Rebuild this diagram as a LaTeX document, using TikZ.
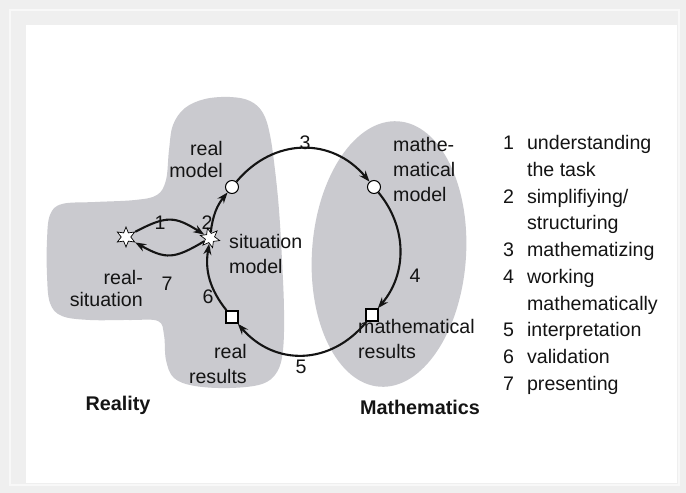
\documentclass[tikz,border=0pt]{standalone}
\usepackage{fontspec}
\setmainfont{Liberation Sans}
\usetikzlibrary{shapes.geometric,arrows.meta}
\definecolor{bggray}{RGB}{239,239,239}
\definecolor{frameline}{RGB}{248,248,248}
\definecolor{blob}{RGB}{202,202,207}
\definecolor{ink}{RGB}{20,20,20}
\begin{document}
\begin{tikzpicture}[x=1pt,y=1pt,
  lbl/.style={inner sep=0pt, text=ink, font=\fontsize{19.6}{25}\selectfont},
  lbltight/.style={inner sep=0pt, text=ink, font=\fontsize{19.6}{22}\selectfont},
  title/.style={inner sep=0pt, text=ink, font=\fontsize{19.8}{24}\selectfont\bfseries},
  starnode/.style={star, star points=6, star point ratio=2.1, minimum size=20pt, inner sep=0pt, draw, fill=white, line width=0.7pt},
  circnode/.style={circle, draw, fill=white, minimum size=13pt, inner sep=0pt, line width=1pt},
  sqnode/.style={rectangle, draw, fill=white, minimum size=12pt, inner sep=0pt, line width=1.5pt},
  arr/.style={line width=2.1pt, draw=ink, -{Stealth[length=11pt,width=8pt]}},
]
\useasboundingbox (0,0) rectangle (686,-493);
% frame
\fill[bggray] (0,0) rectangle (686,-493);
\draw[frameline, line width=1.5pt] (10,-10) rectangle (679,-485);
\fill[white] (26,-25) rectangle (677,-483);
% Reality blob
\fill[blob] plot[smooth cycle, tension=0.6] coordinates {
  (230,-97) (250,-101) (263,-113) (270,-135) (275,-170) (279,-210) (282,-260)
  (284,-310) (283,-350) (277,-372) (262,-384) (230,-388) (195,-386) (174,-378)
  (166,-360) (164,-335) (158,-321) (130,-320) (90,-320) (62,-316) (50,-303)
  (47,-275) (47,-240) (50,-215) (62,-204) (95,-202) (135,-200) (157,-195)
  (166,-180) (169,-150) (173,-125) (185,-108) (205,-99)};
% Mathematics ellipse
\fill[blob, rotate around={-4:(389,-254)}] (389,-254) ellipse [x radius=77, y radius=133];
% text labels
\node[lbltight, align=right, anchor=east] (lrm) at (223,-159.5) {real\\model};
\node[lbl, align=left, anchor=west] (lmm) at (393,-169.5) {mathe-\\matical\\model};
\node[lbl, align=left, anchor=west] (lsm) at (229,-254) {situation\\model};
\node[lbltight, align=right, anchor=east] (lrs) at (143,-288.5) {real-\\situation};
\node[lbl, align=right, anchor=east] (lrr) at (247,-364) {real\\results};
\node[lbl, align=left, anchor=west] (lmr) at (358,-339) {mathematical\\results};
\node[title] (treal) at (118,-405) {Reality};
\node[title] (tmath) at (420,-407) {Mathematics};
% step numbers
\node[lbl] (n1) at (160,-223) {1};
\node[lbl] (n2) at (207,-223) {2};
\node[lbl] (n3) at (305,-143) {3};
\node[lbl] (n4) at (415,-276) {4};
\node[lbl] (n5) at (301,-367) {5};
\node[lbl] (n6) at (208,-297) {6};
\node[lbl] (n7) at (167,-284) {7};
% legend
\node[anchor=north west, inner sep=0pt, text=ink, font=\fontsize{19.6}{26.7}\selectfont] (legend) at (503,-131) {%
\begin{tabular}{@{}l@{\hspace{13pt}}l@{}}
1 & understanding\\
  & the task\\
2 & simplifiying/\\
  & structuring\\
3 & mathematizing\\
4 & working\\
  & mathematically\\
5 & interpretation\\
6 & validation\\
7 & presenting
\end{tabular}};
% cycle nodes
\node[starnode] (rs) at (126,-237) {};
\node[starnode, rotate=15] (sm) at (210,-238) {};
\node[circnode] (rm) at (232,-187) {};
\node[circnode] (mm) at (374,-187) {};
\node[sqnode] (mr) at (372,-315) {};
\node[sqnode] (rr) at (232,-317) {};
% connectors
\draw[arr] (rs) to[bend left=30, looseness=1.3] (sm);
\draw[arr] (sm) to[bend left=30, looseness=1.3] (rs);
\draw[arr] (sm) to[bend left=16] (rm);
\draw[arr] (rm) to[bend left=50, looseness=1.12] (mm);
\draw[arr] (mm) to[bend left=40] (mr);
\draw[arr] (mr) to[bend left=50, looseness=1.12] (rr);
\draw[arr] (rr) to[bend left=24] (sm);
\end{tikzpicture}
\end{document}
